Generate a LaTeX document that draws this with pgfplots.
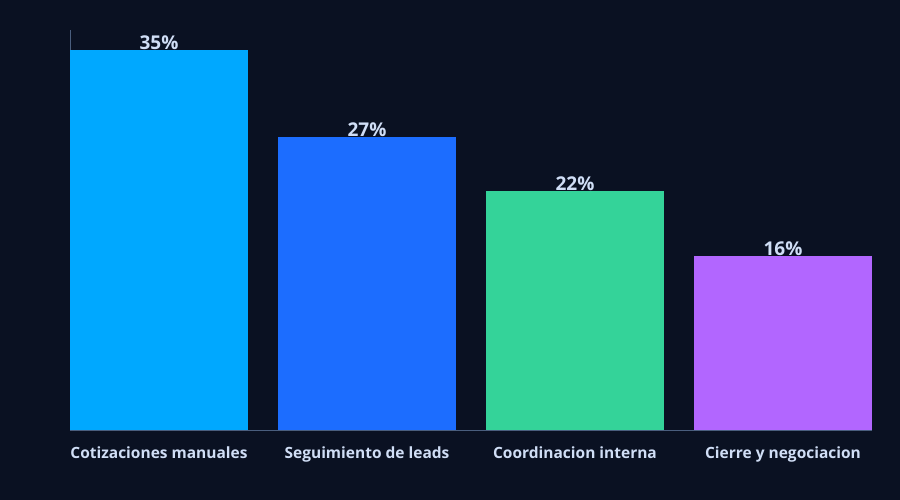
\documentclass[border=0pt]{standalone}
\usepackage{fontspec}
\setmainfont{Open Sans}
\usepackage{pgfplots}
\pgfplotsset{compat=1.18}

\definecolor{bg}{HTML}{0A1122}
\definecolor{axisline}{HTML}{4A5E7E}
\definecolor{txt}{HTML}{D0DEF6}
\definecolor{cA}{HTML}{00A8FF}
\definecolor{cB}{HTML}{1C6DFF}
\definecolor{cC}{HTML}{34D399}
\definecolor{cD}{HTML}{B266FF}

\begin{document}
\begin{tikzpicture}[x=1pt,y=1pt]
\fill[bg] (0,0) rectangle (900,500);
\begin{axis}[
    at={(70pt,70pt)}, anchor=south west,
    scale only axis,
    width=802pt, height=400pt,
    xmin=-0.4279, xmax=3.4279,
    ymin=0, ymax=36.84,
    axis lines=left,
    axis line style={axisline, line width=0.8pt, -},
    ytick=\empty,
    xtick={0,1,2,3},
    xticklabels={Cotizaciones manuales, Seguimiento de leads, Coordinacion interna, Cierre y negociacion},
    xtick style={draw=none},
    xticklabel style={font=\fontsize{15.5}{18}\selectfont\bfseries, text=txt, yshift=-9pt},
    /pgf/number format/assume math mode=true,
    ybar, bar width=0.856, bar shift=0pt,
    nodes near coords={\pgfmathprintnumber{\pgfplotspointmeta}\%},
    nodes near coords style={font=\fontsize{19}{22}\selectfont\bfseries, text=txt, yshift=-3pt},
    clip=false,
]
\addplot[draw=none, fill=cA] coordinates {(0,35)};
\addplot[draw=none, fill=cB] coordinates {(1,27)};
\addplot[draw=none, fill=cC] coordinates {(2,22)};
\addplot[draw=none, fill=cD] coordinates {(3,16)};
\end{axis}
\end{tikzpicture}
\end{document}
